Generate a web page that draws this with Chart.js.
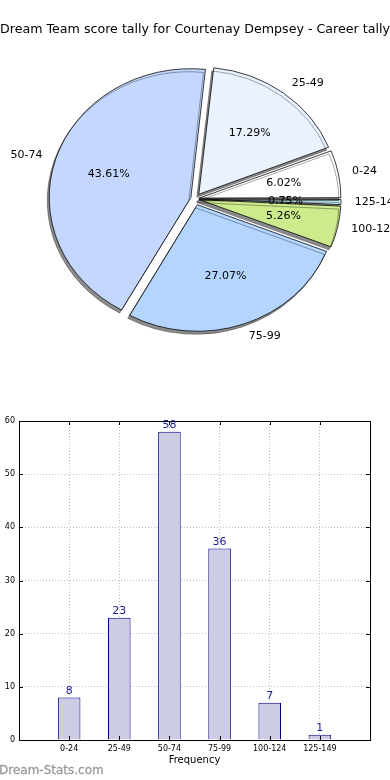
<!DOCTYPE html>
<html>
<head>
<meta charset="utf-8">
<script src="https://cdn.jsdelivr.net/npm/chart.js@4.4.1/dist/chart.umd.min.js"></script>
<style>
  html, body { margin: 0; padding: 0; background: #fff; width: 390px; height: 780px; overflow: hidden; }
  #pieWrap { position: absolute; left: 0; top: 0; width: 390px; height: 400px; }
  #barWrap { position: absolute; left: 0; top: 400px; width: 390px; height: 380px; }
  #wm { position: absolute; left: -1px; top: 763px; font-family: "DejaVu Sans", sans-serif; font-weight: normal; font-size: 12px; color: #9a9a9a; -webkit-text-stroke: 0.3px #9a9a9a; }
</style>
</head>
<body>
<div id="pieWrap"><canvas id="pie" width="390" height="400"></canvas></div>
<div id="barWrap"><canvas id="bar" width="390" height="380"></canvas></div>
<div id="wm">Dream-Stats.com</div>
<script>
// ---- data ----
const chartTitle = 'Dream Team score tally for Courtenay Dempsey - Career tally';
const categories = ['0-24', '25-49', '50-74', '75-99', '100-124', '125-149'];
const counts = [8, 23, 58, 36, 7, 1];
const percentLabels = ['6.02%', '17.29%', '43.61%', '27.07%', '5.26%', '0.75%'];
const sliceColors = ['#ffffff', '#eaf2ff', '#c4d8ff', '#b3d5ff', '#cdea8c', '#cdf5ff'];
const yTicks = [0, 10, 20, 30, 40, 50, 60];
const xAxisTitle = 'Frequency';

const FONT = '"DejaVu Sans", sans-serif';
const PIE_R = 139;
const PIE_OFFSET = 7;
const Y_SCALE = 0.91;

// ---- pie (drawn clockwise in Chart.js, so reverse to mimic counter-clockwise) ----
const pieLabels = categories.slice().reverse();
const pieData = counts.slice().reverse();
const piePct = percentLabels.slice().reverse();
const pieCols = sliceColors.slice().reverse();
const pieTotal = pieData.reduce((a, b) => a + b, 0);
// Chart.js moves an arc by offset/4 * (1 + fix); choose offsets so each wedge moves PIE_OFFSET px
const pieOffsets = pieData.map(v => {
  const circ = v / pieTotal * Math.PI * 2;
  const fix = 1 - Math.sin(Math.min(Math.PI, circ));
  return 4 * PIE_OFFSET / (1 + fix);
});

const squashPlugin = {
  id: 'squash',
  beforeDatasetsDraw(chart) {
    const ctx = chart.ctx;
    const a = chart.chartArea;
    const cx = (a.left + a.right) / 2, cy = (a.top + a.bottom) / 2;
    ctx.save();
    ctx.shadowColor = 'rgba(0,0,0,0.45)';
    ctx.shadowOffsetX = -2;
    ctx.shadowOffsetY = 3;
    ctx.shadowBlur = 0;
    ctx.translate(cx, cy);
    ctx.scale(1, Y_SCALE);
    ctx.translate(-cx, -cy);
  },
  afterDatasetsDraw(chart) {
    const ctx = chart.ctx;
    ctx.restore();
    const meta = chart.getDatasetMeta(0);
    ctx.save();
    ctx.fillStyle = '#000';
    ctx.font = '11px ' + FONT;
    ctx.textBaseline = 'middle';
    meta.data.forEach((arc, i) => {
      const p = arc.getProps(['x', 'y', 'startAngle', 'endAngle', 'outerRadius'], true);
      const mid = (p.startAngle + p.endAngle) / 2;
      const off = PIE_OFFSET;
      const c = Math.cos(mid), s = Math.sin(mid);
      const lr = off + 1.1 * p.outerRadius;
      const lx = p.x + c * lr, ly = p.y + s * lr * Y_SCALE;
      ctx.textAlign = c >= 0 ? 'left' : 'right';
      ctx.fillText(pieLabels[i], lx, ly);
      const pr = off + 0.6 * p.outerRadius;
      const px = p.x + c * pr, py = p.y + s * pr * Y_SCALE;
      ctx.textAlign = 'center';
      ctx.fillText(piePct[i], px, py);
    });
    ctx.restore();
  }
};

new Chart(document.getElementById('pie'), {
  type: 'pie',
  data: {
    labels: pieLabels,
    datasets: [{
      data: pieData,
      backgroundColor: pieCols,
      borderColor: '#000',
      borderWidth: 0.8,
      offset: pieOffsets
    }]
  },
  options: {
    responsive: false,
    animation: false,
    rotation: 90,
    radius: PIE_R,
    layout: { padding: { top: 0, bottom: 40, left: 0, right: 0 } },
    plugins: {
      legend: { display: false },
      tooltip: { enabled: false },
      title: {
        display: true,
        text: chartTitle,
        color: '#000',
        font: { family: FONT, size: 13, weight: 'normal' },
        padding: { top: 22, bottom: 0 }
      }
    }
  },
  plugins: [squashPlugin]
});

// ---- bar ----
const barLabels = [''].concat(categories, ['']);
const barData = [null].concat(counts, [null]);

const barDecor = {
  id: 'barDecor',
  afterDatasetsDraw(chart) {
    const ctx = chart.ctx;
    const a = chart.chartArea;
    const xs = chart.scales.x, ys = chart.scales.y;
    ctx.save();
    ctx.strokeStyle = '#000';
    ctx.lineWidth = 1;
    ctx.strokeRect(Math.round(a.left) + 0.5, Math.round(a.top) + 0.5, Math.round(a.right - a.left), Math.round(a.bottom - a.top));
    ctx.beginPath();
    yTicks.forEach(v => {
      const y = Math.round(ys.getPixelForValue(v)) + 0.5;
      ctx.moveTo(a.left, y); ctx.lineTo(a.left + 4, y);
      ctx.moveTo(a.right, y); ctx.lineTo(a.right - 4, y);
    });
    categories.forEach((c, i) => {
      const x = Math.round(xs.getPixelForValue(i + 1)) + 0.5;
      ctx.moveTo(x, a.bottom); ctx.lineTo(x, a.bottom - 4);
      ctx.moveTo(x, a.top); ctx.lineTo(x, a.top + 4);
    });
    ctx.stroke();
    const meta = chart.getDatasetMeta(0);
    ctx.fillStyle = '#1a1a9a';
    ctx.font = '11px ' + FONT;
    ctx.textAlign = 'center';
    ctx.textBaseline = 'bottom';
    meta.data.forEach((bar, i) => {
      const v = barData[i];
      if (v === null) return;
      ctx.fillText(String(v), bar.x, bar.y - 1);
    });
    ctx.restore();
  }
};

new Chart(document.getElementById('bar'), {
  type: 'bar',
  data: {
    labels: barLabels,
    datasets: [{
      data: barData,
      backgroundColor: '#ccccE4',
      borderColor: '#000080',
      borderWidth: 1,
      barPercentage: 0.45,
      categoryPercentage: 1
    }]
  },
  options: {
    responsive: false,
    animation: false,
    layout: { padding: { top: 21, right: 20, left: 0, bottom: 0 } },
    plugins: { legend: { display: false }, tooltip: { enabled: false } },
    scales: {
      x: {
        type: 'category',
        offset: false,
        grid: { offset: false, color: '#c0c0c0', lineWidth: 1, drawTicks: false },
        border: { display: false, dash: [1, 2] },
        ticks: { color: '#000', font: { family: FONT, size: 8 }, padding: 4, maxRotation: 0, autoSkip: false },
        title: { display: true, text: xAxisTitle, color: '#000', font: { family: FONT, size: 10 }, padding: { top: 0, bottom: 14 } },
        afterFit(scale) { scale.height = 40; }
      },
      y: {
        min: 0,
        max: 60,
        afterBuildTicks(scale) { scale.ticks = yTicks.map(v => ({ value: v })); },
        grid: { color: '#c0c0c0', lineWidth: 1, drawTicks: false },
        border: { display: false, dash: [1, 2] },
        ticks: { color: '#000', font: { family: FONT, size: 8 }, padding: 4 },
        afterFit(scale) { scale.width = 19; }
      }
    }
  },
  plugins: [barDecor]
});
</script>
</body>
</html>
